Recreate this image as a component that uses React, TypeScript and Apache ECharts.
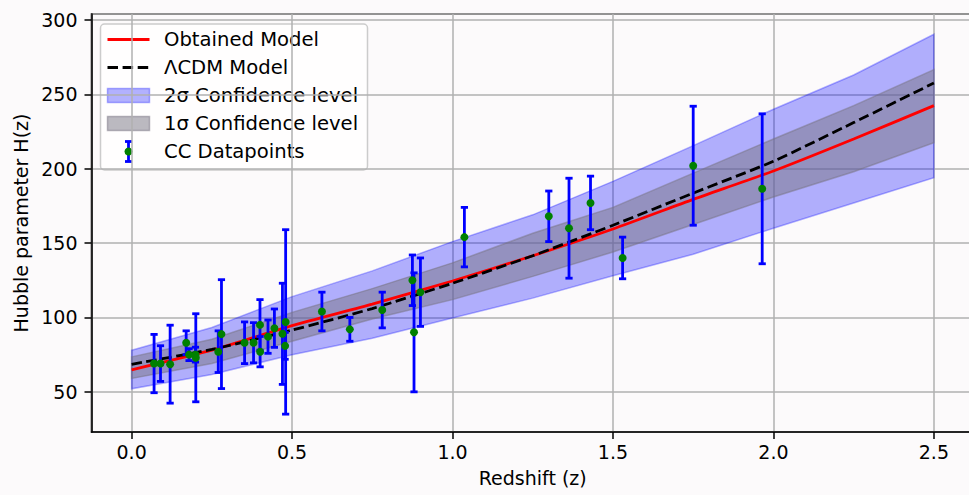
import React, { useEffect, useRef } from "react";
import * as echarts from "echarts";

// Cosmic chronometer data points
const zData = [0.07, 0.09, 0.12, 0.17, 0.179, 0.199, 0.2, 0.27, 0.28, 0.352, 0.38, 0.4, 0.4004, 0.425, 0.445, 0.47, 0.4783, 0.48, 0.593, 0.68, 0.781, 0.875, 0.88, 0.9, 1.037, 1.3, 1.363, 1.43, 1.53, 1.75, 1.965];
const hData = [69, 69, 68.6, 83, 75, 75, 72.9, 77, 88.8, 83, 83, 95, 77, 87.1, 92.8, 89, 80.9, 97, 104, 92, 105, 125, 90, 117, 154, 168, 160, 177, 140, 202, 186.5];
const sigmaData = [19.6, 12, 26.2, 8, 4, 5, 29.6, 14, 36.6, 14, 13.5, 17, 10.2, 11.2, 12.9, 34, 9, 62, 13, 8, 12, 17, 40, 23, 20, 17, 33.6, 18, 14, 40, 50.4];

// Model curves
const zGrid = [0, 0.25, 0.5, 0.75, 1.0, 1.25, 1.5, 1.75, 2.0, 2.25, 2.5];
const obtainedModel = [64.8, 78, 94.5, 109, 124.5, 141.5, 159.5, 179.4, 198.5, 220, 242.4];
const lcdmModel = [68.5, 78.5, 91.5, 106, 123, 141.5, 162, 183.6, 205, 231, 257.6];
const twoSigmaUpper = [78, 93.3, 114, 131.3, 151, 169, 191.5, 215.5, 240, 263, 290.4];
const twoSigmaLower = [52, 61.6, 75, 86, 99.6, 113, 128, 142.5, 160, 177, 194];
const oneSigmaUpper = [73.5, 85.3, 103.4, 119.4, 136.7, 156.6, 174, 197, 220, 242.4, 266.6];
const oneSigmaLower = [59, 69, 84, 98.9, 112, 127.6, 144, 162.5, 181, 198, 217.5];

const legendLabels = ["Obtained Model", "ΛCDM Model", "2σ Confidence level", "1σ Confidence level", "CC Datapoints"];

const FONT = "DejaVu Sans";
const BG = "#fcfafb";
const BLUE_BAND = "rgba(0,0,255,0.3)";
const GRAY_BAND = "rgba(120,116,130,0.5)";

function bandSeries(name: string, lo: number[], hi: number[], color: string, z: number) {
  return {
    name,
    type: "custom",
    z,
    clip: true,
    silent: true,
    data: zGrid.map((zz, i) => [zz, lo[i], hi[i]]),
    encode: { x: 0, y: [1, 2] },
    renderItem: (params: any, api: any) => {
      if (params.dataIndex !== 0) return null;
      const up = zGrid.map((zz, i) => api.coord([zz, hi[i]]));
      const dn = zGrid.map((zz, i) => api.coord([zz, lo[i]])).reverse();
      return {
        type: "polygon",
        shape: { points: up.concat(dn), smooth: 0 },
        style: { fill: color, stroke: color, lineWidth: 1.5 },
      };
    },
  };
}

export default function App() {
  const ref = useRef<HTMLDivElement>(null);
  useEffect(() => {
    document.body.style.margin = "0";
    document.body.style.background = BG;
    const chart = echarts.init(ref.current!, null, { renderer: "svg" });

    const rowY = (i: number) => 39.5 + 28 * i;
    const hx1 = 107.5, hx2 = 149.5, tx = 164;
    const legendChildren: any[] = [
      {
        type: "rect",
        shape: { x: 100.5, y: 24, width: 267, height: 146, r: 4 },
        style: { fill: "rgba(255,255,255,0.8)", stroke: "#cccccc", lineWidth: 1.5 },
      },
      { type: "line", shape: { x1: hx1, y1: rowY(0), x2: hx2, y2: rowY(0) }, style: { stroke: "#ff0000", lineWidth: 2.8 } },
      { type: "line", shape: { x1: hx1, y1: rowY(1), x2: hx2, y2: rowY(1) }, style: { stroke: "#000000", lineWidth: 2.8, lineDash: [10.5, 4.6] } },
      { type: "rect", shape: { x: hx1, y: rowY(2) - 7, width: hx2 - hx1, height: 14 }, style: { fill: BLUE_BAND, stroke: BLUE_BAND, lineWidth: 1.5 } },
      { type: "rect", shape: { x: hx1, y: rowY(3) - 7, width: hx2 - hx1, height: 14 }, style: { fill: GRAY_BAND, stroke: GRAY_BAND, lineWidth: 1.5 } },
      { type: "line", shape: { x1: 128.5, y1: rowY(4) - 10, x2: 128.5, y2: rowY(4) + 10 }, style: { stroke: "#0000ff", lineWidth: 2.8 } },
      { type: "line", shape: { x1: 125, y1: rowY(4) - 10, x2: 132, y2: rowY(4) - 10 }, style: { stroke: "#0000ff", lineWidth: 2.8 } },
      { type: "line", shape: { x1: 125, y1: rowY(4) + 10, x2: 132, y2: rowY(4) + 10 }, style: { stroke: "#0000ff", lineWidth: 2.8 } },
      { type: "circle", shape: { cx: 128.5, cy: rowY(4), r: 4 }, style: { fill: "#008000" } },
    ];
    legendLabels.forEach((t, i) => {
      legendChildren.push({
        type: "text",
        x: tx,
        y: rowY(i),
        style: { text: t, fill: "#000", font: `19.6px '${FONT}'`, textVerticalAlign: "middle", textAlign: "left" },
      });
    });

    const option: any = {
      animation: false,
      backgroundColor: BG,
      textStyle: { fontFamily: FONT },
      grid: {
        left: 91.5,
        right: -5,
        top: 14,
        bottom: 63,
        show: true,
        borderColor: "#000",
        borderWidth: 1.5,
        backgroundColor: "transparent",
        containLabel: false,
        outerBoundsMode: "none",
      },
      xAxis: {
        type: "value",
        min: -0.125,
        max: 2.625,
        splitNumber: 5,
        name: "Redshift (z)",
        nameLocation: "middle",
        nameGap: 36,
        nameTextStyle: { fontSize: 19, color: "#000", fontFamily: FONT },
        axisLine: { show: true, onZero: false, lineStyle: { color: "#000", width: 1.5 } },
        axisTick: { show: true, inside: false, length: 7, lineStyle: { color: "#000", width: 1.5 } },
        axisLabel: {
          show: true,
          margin: 10,
          fontSize: 19,
          color: "#000",
          fontFamily: FONT,
          showMinLabel: false,
          showMaxLabel: false,
          formatter: (v: number) => (Math.abs(v / 0.5 - Math.round(v / 0.5)) < 1e-6 ? v.toFixed(1) : ""),
        },
        splitLine: { show: true, lineStyle: { color: "#b0b0b0", width: 1.5 } },
      },
      yAxis: {
        type: "value",
        min: 23,
        max: 304,
        splitNumber: 5,
        name: "Hubble parameter H(z)",
        nameLocation: "middle",
        nameGap: 58,
        nameRotate: 90,
        nameTextStyle: { fontSize: 19, color: "#000", fontFamily: FONT },
        axisLine: { show: true, onZero: false, lineStyle: { color: "#000", width: 1.5 } },
        axisTick: { show: true, inside: false, length: 7, lineStyle: { color: "#000", width: 1.5 } },
        axisLabel: {
          show: true,
          margin: 14,
          fontSize: 19,
          color: "#000",
          fontFamily: FONT,
          showMinLabel: false,
          showMaxLabel: false,
          formatter: (v: number) => (Math.abs(v / 50 - Math.round(v / 50)) < 1e-6 ? String(v) : ""),
        },
        splitLine: { show: true, lineStyle: { color: "#b0b0b0", width: 1.5 } },
      },
      series: [
        bandSeries("2σ Confidence level", twoSigmaLower, twoSigmaUpper, BLUE_BAND, 1),
        bandSeries("1σ Confidence level", oneSigmaLower, oneSigmaUpper, GRAY_BAND, 2),
        {
          name: "Obtained Model",
          type: "line",
          z: 3,
          data: zGrid.map((zz, i) => [zz, obtainedModel[i]]),
          showSymbol: false,
          smooth: 0.2,
          lineStyle: { color: "#ff0000", width: 2.8 },
        },
        {
          name: "ΛCDM Model",
          type: "line",
          z: 4,
          data: zGrid.map((zz, i) => [zz, lcdmModel[i]]),
          showSymbol: false,
          smooth: 0.2,
          lineStyle: { color: "#000000", width: 2.8, type: [10.5, 4.6] },
        },
        {
          name: "CC errors",
          type: "custom",
          z: 5,
          data: zData.map((zz, i) => [zz, hData[i] - sigmaData[i], hData[i] + sigmaData[i]]),
          encode: { x: 0, y: [1, 2] },
          renderItem: (params: any, api: any) => {
            const x = api.value(0);
            const lo = api.coord([x, api.value(1)]);
            const hi = api.coord([x, api.value(2)]);
            const w = 3.6;
            const style = { stroke: "#0000ff", lineWidth: 2.8 };
            return {
              type: "group",
              children: [
                { type: "line", shape: { x1: lo[0], y1: lo[1], x2: hi[0], y2: hi[1] }, style },
                { type: "line", shape: { x1: lo[0] - w, y1: lo[1], x2: lo[0] + w, y2: lo[1] }, style },
                { type: "line", shape: { x1: hi[0] - w, y1: hi[1], x2: hi[0] + w, y2: hi[1] }, style },
              ],
            };
          },
        },
        {
          name: "CC Datapoints",
          type: "scatter",
          z: 6,
          data: zData.map((zz, i) => [zz, hData[i]]),
          symbol: "circle",
          symbolSize: 8,
          itemStyle: { color: "#008000", borderWidth: 0, opacity: 1 },
        },
      ],
      graphic: [{ type: "group", z: 100, children: legendChildren }],
    };
    chart.setOption(option);
    return () => chart.dispose();
  }, []);
  return <div ref={ref} style={{ width: 969, height: 495 }} />;
}
